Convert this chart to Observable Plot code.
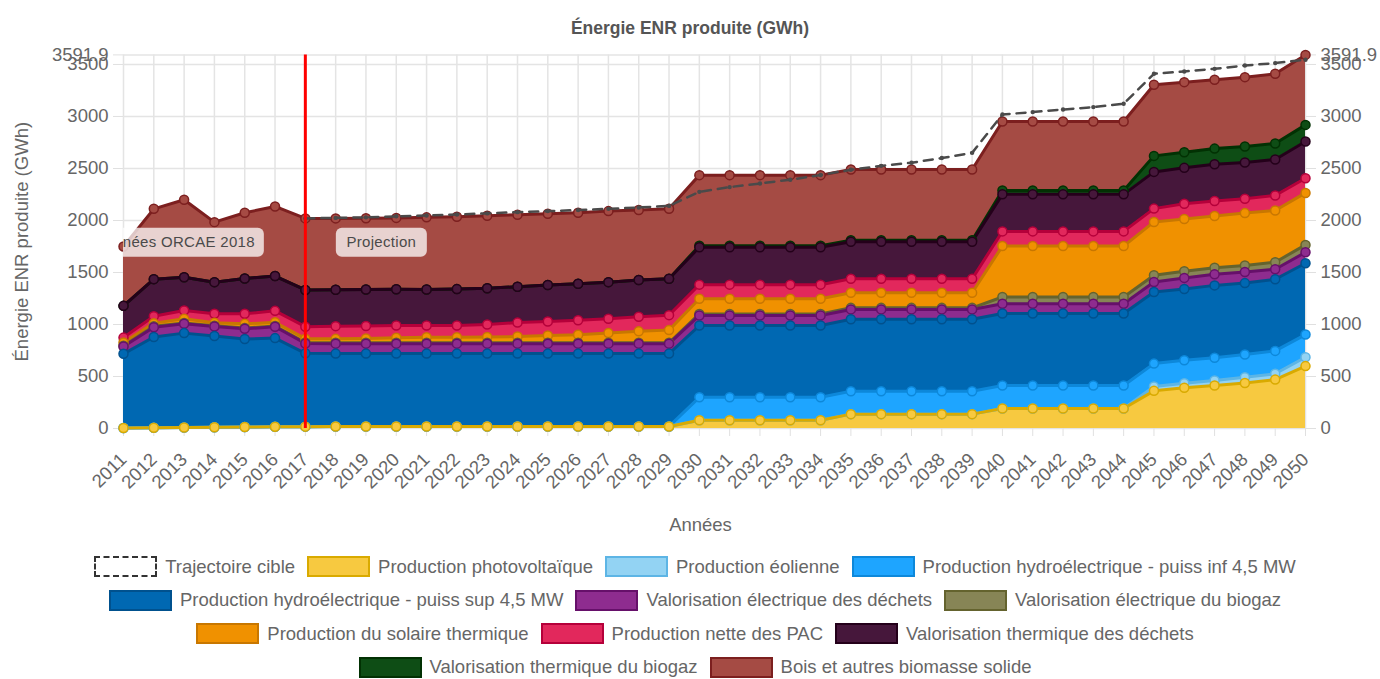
<!DOCTYPE html>
<html><head><meta charset="utf-8">
<script src="https://cdn.jsdelivr.net/npm/d3@7"></script>
<script src="https://cdn.jsdelivr.net/npm/@observablehq/plot@0.6"></script>
<style>
body{margin:0;background:#fff;font-family:"Liberation Sans",Arial,sans-serif;}
#title{height:40px;box-sizing:border-box;padding-top:19px;text-align:center;font-weight:bold;font-size:17.5px;line-height:18px;color:#555;}
#chart svg{display:block;}
#legend{font-size:18.5px;color:#666;}
.lrow{display:flex;justify-content:center;align-items:center;height:33.5px;padding-left:10px;}
.litem{display:flex;align-items:center;margin:0 6px;}
.lbox{width:59px;height:17px;margin-right:8px;box-sizing:content-box;}
</style></head>
<body>
<div id="title">Énergie ENR produite (GWh)</div>
<div id="chart"></div>
<div id="legend"></div>
<script>
// ---------- data ----------
const years = [2011,2012,2013,2014,2015,2016,2017,2018,2019,2020,2021,2022,2023,2024,2025,2026,2027,2028,2029,2030,2031,2032,2033,2034,2035,2036,2037,2038,2039,2040,2041,2042,2043,2044,2045,2046,2047,2048,2049,2050];

const seriesNames = [
  "Production photovoltaïque",
  "Production éolienne",
  "Production hydroélectrique - puiss inf 4,5 MW",
  "Production hydroélectrique - puiss sup 4,5 MW",
  "Valorisation électrique des déchets",
  "Valorisation électrique du biogaz",
  "Production du solaire thermique",
  "Production nette des PAC",
  "Valorisation thermique des déchets",
  "Valorisation thermique du biogaz",
  "Bois et autres biomasse solide"
];

const photovoltaique = [5,8,10,12,14,16,18,20,20,20,20,20,20,20,20,20,20,20,20,80,80,80,80,80,138,138,138,138,138,192,192,192,192,192,362,391,413,437,470,600];
const eolienne = [0,0,0,0,0,0,0,0,0,0,0,0,0,0,0,0,0,0,0,0,0,0,0,0,0,0,0,0,0,0,0,0,0,0,42,45,48,55,56,85];
const hydroInf = [0,0,0,0,0,0,0,0,0,0,0,0,0,0,0,0,0,0,0,220,220,220,220,220,220,220,220,220,220,222,222,222,222,222,220,220,220,220,220,218];
const hydroSup = [713,872,907,878,846,853,705,700,700,700,700,700,700,700,700,700,700,700,700,690,690,690,690,690,692,692,692,692,692,692,692,692,692,692,689,686,695,686,689,686];
const elecDechets = [70,94,89,90,98,109,95,96,96,96,96,96,96,96,96,96,96,96,96,97,97,97,97,97,95,95,95,95,95,94,94,94,94,94,96,106,106,106,96,105];
const elecBiogaz = [8,8,8,8,8,8,8,8,8,8,8,8,8,8,8,8,8,8,8,15,15,15,15,15,15,15,15,15,15,64,64,64,64,64,64,64,64,64,68,71];
const solaireTh = [30,31,41,28,40,35,38,38,42,48,54,54,56,60,70,78,93,110,122,145,145,145,145,145,145,145,145,145,145,490,490,490,490,490,513,503,497,503,497,500];
const pac = [48,67,80,87,97,110,115,122,120,118,112,112,120,134,135,138,138,141,144,136,136,136,136,136,134,134,134,134,134,141,141,141,141,141,128,145,144,138,144,141];
const thDechets = [305,356,320,304,339,335,353,350,350,348,346,350,348,345,350,352,352,352,350,360,360,360,360,360,356,356,356,356,356,356,356,356,356,356,353,346,353,349,346,353];
const thBiogaz = [0,0,0,0,0,0,0,0,0,0,0,0,0,0,0,0,0,0,0,15,15,15,15,15,15,15,15,15,15,38,38,38,38,38,154,150,151,154,154,160];
const bois = [571,676,744,577,632,669,688,686,686,687,694,695,697,692,686,683,683,673,672,678,678,678,678,678,680,680,680,680,680,663,663,663,663,663,684,674,662,666,670,672.9];

const trajectoireName = "Trajectoire cible";
const trajectoire = [null,null,null,null,null,null,2020,2025,2030,2040,2048,2058,2068,2080,2090,2100,2112,2125,2140,2275,2321,2355,2392,2437,2487,2525,2555,2600,2650,3019,3042,3067,3090,3122,3410,3433,3458,3490,3513,3545];

const seriesValues = [photovoltaique,eolienne,hydroInf,hydroSup,elecDechets,elecBiogaz,solaireTh,pac,thDechets,thBiogaz,bois];

const fillColors = ["#f7c940","#93d3f3","#1ea5ff","#0068b2","#8e2c8f","#878556","#f09100","#e2285c","#46173b","#0e4d15","#a54b44"];
const strokeColors = ["#d9aa00","#5db5e5","#0d88da","#00518e","#66106a","#64632e","#c87700","#b5003a","#24001a","#023103","#7c1f1f"];

const yTicks = [0,500,1000,1500,2000,2500,3000,3500,3591.9];
const yMax = 3591.9;
const splitYear = 2017;
const annotLabels = ["Données ORCAE 2018","Projection"];
const annotValue = 1790;
const yLabel = "Énergie ENR produite (GWh)";
const xLabel = "Années";

// ---------- build ----------
const fillOf = new Map(seriesNames.map((n,i)=>[n,fillColors[i]]));
const strokeOf = new Map(seriesNames.map((n,i)=>[n,strokeColors[i]]));
const long = [];
seriesNames.forEach((name,i)=>years.forEach((yr,j)=>long.push({year:yr, series:name, value:seriesValues[i][j]})));
const longRev = long.slice().reverse();
const traj = years.map((yr,j)=>({year:yr, value:trajectoire[j]})).filter(d=>d.value!=null);

const stackOpts = {x:"year", y:"value", z:"series", order: seriesNames};

function annotations(index, scales, values, dims){
  const g = d3.create("svg:g");
  const cid = "plotclip";
  g.append("clipPath").attr("id",cid).append("rect")
    .attr("x",dims.marginLeft).attr("y",dims.marginTop)
    .attr("width",dims.width-dims.marginLeft-dims.marginRight)
    .attr("height",dims.height-dims.marginTop-dims.marginBottom);
  const gc = g.append("g").attr("clip-path",`url(#${cid})`)
    .attr("font-family","Liberation Sans, Arial, sans-serif").attr("font-size",15);
  const xr = scales.x(splitYear), yv = scales.y(annotValue);
  gc.append("rect").attr("x",xr-241).attr("y",yv-14).attr("width",200).attr("height",29).attr("rx",6)
    .attr("fill","rgba(255,255,255,0.75)");
  gc.append("text").attr("x",xr-50).attr("y",yv).attr("dy","0.35em").attr("text-anchor","end")
    .attr("fill","#4a4a4a").attr("letter-spacing","0.3").text(annotLabels[0]);
  gc.append("rect").attr("x",xr+31).attr("y",yv-14).attr("width",91).attr("height",29).attr("rx",6)
    .attr("fill","rgba(255,255,255,0.75)");
  gc.append("text").attr("x",xr+76.5).attr("y",yv).attr("dy","0.35em").attr("text-anchor","middle")
    .attr("fill","#4a4a4a").attr("letter-spacing","0.3").text(annotLabels[1]);
  return g.node();
}

const chart = Plot.plot({
  width: 1380, height: 500,
  marginLeft: 123, marginRight: 75, marginTop: 14.4, marginBottom: 112,
  style: {fontFamily: "Liberation Sans, Arial, sans-serif", background: "transparent", overflow: "visible", color: "#666"},
  x: {type: "linear", domain: [2011, 2050]},
  y: {domain: [0, yMax]},
  color: {type: "identity"},
  marks: [
    Plot.gridX(years, {stroke: "#e4e4e4", strokeOpacity: 1, strokeWidth: 1.5}),
    Plot.gridY(yTicks, {stroke: "#e4e4e4", strokeOpacity: 1, strokeWidth: 1.5}),
    Plot.axisY(yTicks, {anchor: "left", tickSize: 10, tickPadding: 5, stroke: "#e0e0e0", fill: "#666", fontSize: 18.5, label: null, tickFormat: d => d === yMax ? "3591.9" : String(d)}),
    Plot.axisY(yTicks, {anchor: "right", tickSize: 10, tickPadding: 5, stroke: "#e0e0e0", fill: "#666", fontSize: 18.5, label: null, tickFormat: d => d === yMax ? "3591.9" : String(d)}),
    Plot.axisX(years, {anchor: "bottom", tickSize: 8, tickPadding: 20, tickRotate: -45, stroke: "#e0e0e0", fill: "#666", fontSize: 18.5, label: null, tickFormat: d => String(d)}),
    Plot.areaY(long, {...stackOpts, fill: d => fillOf.get(d.series), curve: "linear"}),
    Plot.line(longRev, Plot.stackY2({...stackOpts, stroke: d => strokeOf.get(d.series), strokeWidth: 3, curve: "linear"})),
    Plot.dot(longRev, Plot.stackY2({...stackOpts, r: 4.5, fill: d => fillOf.get(d.series), stroke: d => strokeOf.get(d.series), strokeWidth: 1.5})),
    Plot.line(traj, {x: "year", y: "value", stroke: "#4a4a4a", strokeWidth: 2.5, strokeDasharray: "9,7"}),
    Plot.dot(traj, {x: "year", y: "value", r: 2.2, fill: "#4a4a4a"}),
    Plot.ruleX([splitYear], {stroke: "#ff0000", strokeWidth: 3}),
    annotations,
    Plot.text([yLabel], {text: d => d, frameAnchor: "left", textAnchor: "middle", rotate: -90, dx: -101, fontSize: 18.5, fill: "#666"}),
    Plot.text([xLabel], {text: d => d, frameAnchor: "bottom", textAnchor: "middle", dy: 102, dx: -14, fontSize: 18.5, fill: "#666"})
  ]
});
document.getElementById("chart").appendChild(chart);

// ---------- legend ----------
const legendRows = [[-1,0,1,2],[3,4,5],[6,7,8],[9,10]];
const legend = document.getElementById("legend");
legend.style.paddingTop = "10px";
legendRows.forEach(row=>{
  const r = document.createElement("div"); r.className = "lrow";
  row.forEach(i=>{
    const it = document.createElement("div"); it.className = "litem";
    const b = document.createElement("div"); b.className = "lbox";
    if (i < 0) { b.style.border = "2px dashed #333"; b.style.background = "#fff"; }
    else { b.style.background = fillColors[i]; b.style.border = "2px solid " + strokeColors[i]; }
    const t = document.createElement("span");
    t.textContent = i < 0 ? trajectoireName : seriesNames[i];
    it.appendChild(b); it.appendChild(t); r.appendChild(it);
  });
  legend.appendChild(r);
});
</script>
</body></html>
